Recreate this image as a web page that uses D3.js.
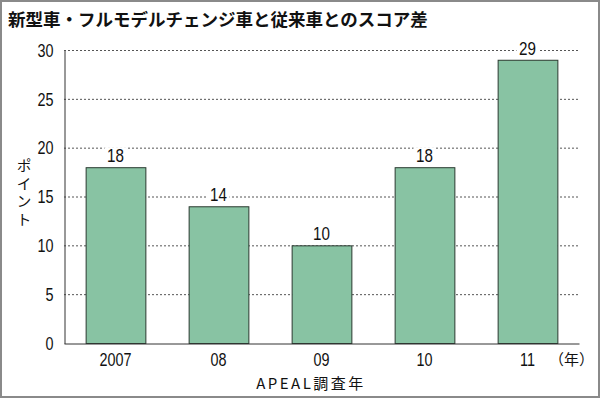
<!DOCTYPE html>
<html><head><meta charset="utf-8">
<script src="https://cdn.jsdelivr.net/npm/d3@7"></script>
<style>body{margin:0;background:#fff}svg{display:block}</style>
</head><body><svg id="c" width="600" height="398"></svg>
<script>
const categories = ["2007","08","09","10","11"];
const values = [18,14,10,18,29];
const yTicks = [0,5,10,15,20,25,30];
const title = "新型車・フルモデルチェンジ車と従来車とのスコア差";
const yTitle = "ポイント";
const xTitle = "APEAL調査年";
const unit = "（年）";

const svg = d3.select("#c");
const font = "'Noto Sans CJK JP', 'Noto Sans', sans-serif";
const numFont = "'Liberation Sans', Arial, sans-serif";
const squeeze = 0.8;
svg.append("rect").attr("x",1).attr("y",1).attr("width",598).attr("height",396)
  .attr("fill","#fff").attr("stroke","#8a8a8a").attr("stroke-width",2);

const x = d3.scaleBand().domain(categories).range([64,579]).paddingInner(0.42).paddingOuter(0.21);
const y = d3.scaleLinear().domain([0,30]).range([343,50]);

svg.append("text").attr("x",8).attr("y",26).text(title)
  .attr("font-family",font).attr("font-size",17.5).attr("font-weight",700).attr("fill","#111");

// grid
svg.append("g").selectAll("line").data(yTicks.filter(d=>d>0)).join("line")
  .attr("x1",64).attr("x2",579).attr("y1",d=>y(d)+0.5).attr("y2",d=>y(d)+0.5)
  .attr("stroke","#555").attr("stroke-width",1).attr("stroke-dasharray","2,2");

// bars
svg.append("g").selectAll("rect").data(values).join("rect")
  .attr("x",(d,i)=>x(categories[i])+0.5).attr("y",d=>y(d)+0.5)
  .attr("width",x.bandwidth()).attr("height",d=>y(0)-y(d))
  .attr("fill","#88c3a3").attr("stroke","#2a3a30").attr("stroke-width",1);

// value labels with white backing
const lg = svg.append("g").selectAll("g").data(values).join("g")
  .attr("transform",(d,i)=>`translate(${x(categories[i])+x.bandwidth()/2},${y(d)-5})`);
lg.append("rect").attr("x",-11).attr("y",-15).attr("width",22).attr("height",15).attr("fill","#fff");
lg.append("text").attr("transform",`scale(${squeeze},1)`)
  .attr("text-anchor","middle").attr("font-family",numFont).attr("font-size",19).attr("fill","#111")
  .text(d=>d);

// axes
const yAxis = d3.axisLeft(y).tickValues(yTicks).tickSize(0).tickPadding(0);
const gy = svg.append("g").attr("transform","translate(64.5,0.5)").call(yAxis);
gy.select(".domain").attr("stroke","#333");
gy.selectAll("text").attr("x",null).attr("transform",`translate(-11,0) scale(${squeeze},1)`)
  .attr("font-family",numFont).attr("font-size",18).attr("fill","#111");

const xAxis = d3.axisBottom(x).tickSize(0).tickPadding(0);
const gx = svg.append("g").attr("transform","translate(0,343.5)").call(xAxis);
gx.select(".domain").attr("stroke","#333");
gx.selectAll("text").attr("y",null).attr("dy",null).attr("transform",`translate(0,22) scale(${squeeze},1)`)
  .attr("font-family",numFont).attr("font-size",18).attr("fill","#111");

svg.append("text").attr("x",549).attr("y",365).text(unit)
  .attr("font-family",font).attr("font-size",15).attr("fill","#111");
svg.append("text").attr("x",311).attr("y",389).attr("text-anchor","middle").text(xTitle)
  .attr("font-family",font).attr("font-size",15).attr("letter-spacing",2.5).attr("fill","#111");

svg.append("text").attr("x",24).attr("y",158).text(yTitle)
  .attr("font-family",font).attr("font-size",15).attr("letter-spacing",3).attr("fill","#111")
  .style("writing-mode","vertical-rl").style("text-orientation","upright");
</script></body></html>
